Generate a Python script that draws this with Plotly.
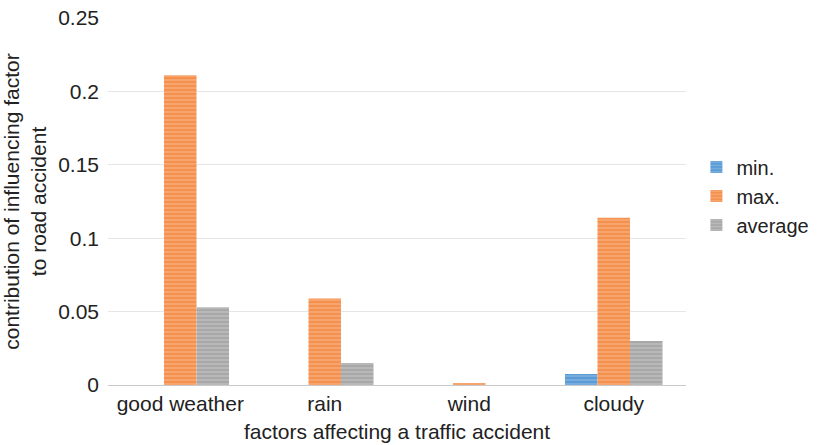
import plotly.graph_objects as go

categories = ["good weather", "rain", "wind", "cloudy"]
min_vals = [0.0, 0.0, 0.0, 0.0075]
max_vals = [0.211, 0.059, 0.001, 0.114]
avg_vals = [0.053, 0.015, 0.0, 0.030]

series = [
    ("min.", min_vals, "#5B9BD5", "#A9CDEE"),
    ("max.", max_vals, "#F4914F", "#FBC9A5"),
    ("average", avg_vals, "#A8A8A8", "#D6D6D6"),
]

FONT = "Liberation Sans, Arial, sans-serif"

fig = go.Figure()
for name, vals, base, stripe in series:
    fig.add_trace(go.Bar(
        x=categories, y=vals, name=name,
        marker=dict(
            color=base,
            line=dict(width=0),
            pattern=dict(shape="-", fgcolor=stripe, bgcolor=base,
                         size=4, solidity=0.35, fillmode="overlay"),
        ),
    ))

fig.update_layout(
    width=817, height=445,
    margin=dict(l=108, r=131, t=18, b=60, autoexpand=False),
    paper_bgcolor="white", plot_bgcolor="white",
    barmode="group", bargap=0.325, bargroupgap=0,
    font=dict(family=FONT, color="#222222"),
    legend=dict(x=1.018, xanchor="left", y=0.515, yanchor="middle",
                font=dict(size=20, family=FONT, color="#222222"),
                itemwidth=30, tracegroupgap=0, bgcolor="rgba(0,0,0,0)"),
    xaxis=dict(
        showline=True, linecolor="#c9c9c9", linewidth=1,
        ticks="", tickfont=dict(size=21),
        title=dict(text="factors affecting a traffic accident",
                   font=dict(size=21), standoff=10),
    ),
    yaxis=dict(
        range=[0, 0.25], dtick=0.05,
        showgrid=True, gridcolor="#e6e6e6", gridwidth=1,
        zeroline=False, showline=False, ticks="",
        tickfont=dict(size=21), ticklabelstandoff=8,
        title=dict(text="contribution of influencing factor<br>to road accident",
                   font=dict(size=21), standoff=6),
    ),
)

fig.write_html("out.html")
